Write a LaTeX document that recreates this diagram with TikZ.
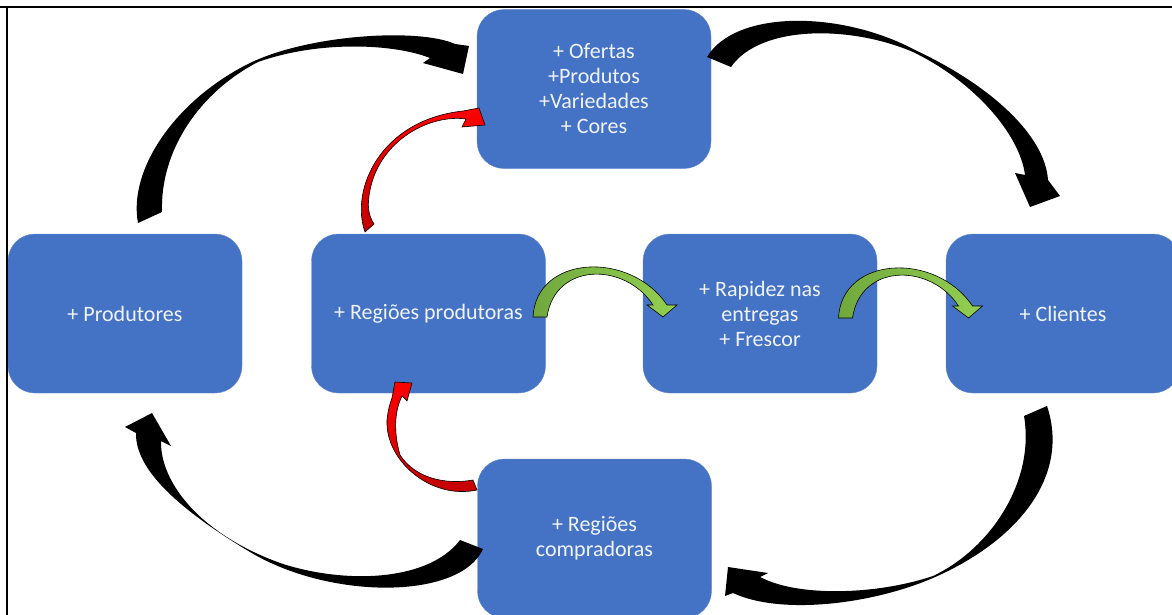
\documentclass[tikz,border=0pt]{standalone}
\usepackage{fontspec}
\setmainfont{Carlito}
\definecolor{boxblue}{RGB}{68,114,196}
\definecolor{leafdark}{RGB}{112,168,62}
\definecolor{leaflight}{RGB}{146,208,80}
\definecolor{reddark}{RGB}{192,0,0}
\tikzset{
  stage/.style={fill=boxblue, draw=boxblue!85!white, rounded corners=27pt,
    minimum width=234pt, minimum height=159pt, inner sep=0pt, align=center,
    text=white!92!boxblue, font=\fontsize{22}{25}\selectfont},
  bigarrow/.style={fill=black},
  redarrow/.style={draw=black, line width=.6pt, bottom color=reddark, top color=red},
  greenarrow/.style={draw=black, line width=.6pt, left color=leafdark, right color=leaflight}
}
\begin{document}
\begin{tikzpicture}[x=1pt,y=-1pt]

    \useasboundingbox (0,0) rectangle (1172,615);
    \clip (0,0) rectangle (1172,615);

    \def\hoparrow{(533,317) .. controls (536,255) and (630,250) .. (667,305)
        -- (677,305) -- (663,317) -- (647,305) -- (653,305)
        .. controls (625,262) and (555,262) .. (547,317) -- cycle}

    %boxes:
    \node[stage] (ofertas) at (594,89) {+ Ofertas\\+Produtos\\+Variedades\\+ Cores};
    \node[stage] (produtores) at (125,313.5) {+ Produtores};
    \node[stage] (regprod) at (428.5,313.5) {+ Regiões produtoras};
    \node[stage] (rapidez) at (760,313.5) {+ Rapidez nas\\entregas\\+ Frescor};
    \node[stage] (clientes) at (1063,313.5) {+ Clientes};
    \node[stage] (regcomp) at (594.5,538.5) {+ Regiões\\compradoras};

    %black arrows round the outside:
    \fill[bigarrow] (138,223) .. controls (128,170) and (175,100) .. (250,63)
        .. controls (310,34) and (420,28) .. (455,44)
        -- (469,46) -- (463,74) -- (423,63) -- (430,58)
        .. controls (395,44) and (320,40) .. (258,62)
        .. controls (200,92) and (160,150) .. (162,212) -- cycle;
    \fill[bigarrow] (707,57) .. controls (735,10) and (840,10) .. (915,50)
        .. controls (990,85) and (1045,135) .. (1048,180)
        -- (1060,196) -- (1030,207) -- (1015,173) -- (1025,175)
        .. controls (1020,135) and (975,82) .. (913,52)
        .. controls (850,25) and (760,25) .. (731,67) -- cycle;
    \fill[bigarrow] (1047,406) .. controls (1070,475) and (1020,540) .. (933,578)
        .. controls (870,605) and (780,615) .. (733,593)
        -- (725,596) -- (728,567) -- (768,573) -- (760,577)
        .. controls (800,598) and (880,594) .. (933,576)
        .. controls (992,548) and (1035,480) .. (1024,416) -- cycle;
    \fill[bigarrow] (483,549) .. controls (460,600) and (330,600) .. (250,552)
        .. controls (180,510) and (135,470) .. (136,433)
        -- (125,427) -- (152,413) -- (171,446) -- (161,441)
        .. controls (160,482) and (200,535) .. (283,564)
        .. controls (350,585) and (430,580) .. (460,540) -- cycle;

    %red arrows:
    \draw[redarrow] (365,232) .. controls (350,190) and (380,120) .. (463,111)
        -- (479,108) -- (485,125) -- (462,127) -- (466,119)
        .. controls (430,114) and (380,140) .. (370,190)
        .. controls (367,205) and (368,215) .. (374,224) -- cycle;
    \draw[redarrow] (477,490) .. controls (430,500) and (385,460) .. (387,420)
        .. controls (388,410) and (390,403) .. (392,398)
        -- (395,382) -- (412,383) -- (407,401) -- (402,396)
        .. controls (395,410) and (393,430) .. (400,455)
        .. controls (415,478) and (445,485) .. (473,480) -- cycle;

    %green arrows:
    \draw[greenarrow] \hoparrow;
    \draw[greenarrow, xshift=305.5pt, yshift=-1pt] \hoparrow;

    %frame:
    \draw[line width=2pt] (0,7.5) -- (1172,7.5);
    \draw[line width=2pt] (6.5,7.5) -- (6.5,615);

\end{tikzpicture}
\end{document}
